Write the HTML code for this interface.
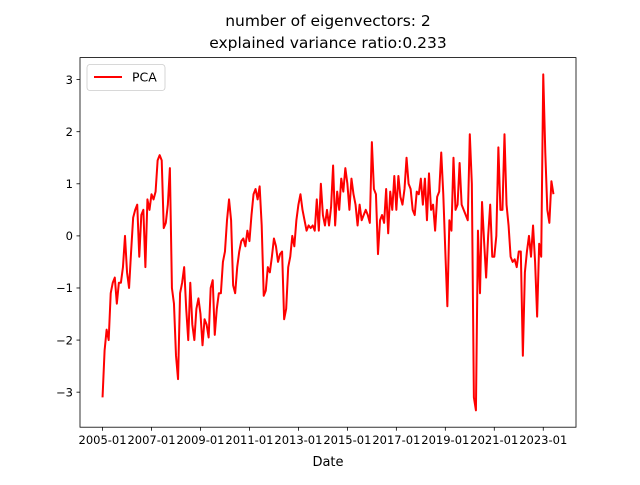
<!DOCTYPE html>
<html><head><meta charset="utf-8"><style>
body{margin:0;background:#fff}
svg{font-family:"DejaVu Sans","Liberation Sans",sans-serif}
</style></head><body>
<svg id="chart" width="640" height="480" xmlns="http://www.w3.org/2000/svg">
<rect width="640" height="480" fill="#fff"/>
<text x="328" y="26" font-size="15.5" text-anchor="middle">number of eigenvectors: 2</text>
<text x="328" y="48" font-size="15.5" text-anchor="middle">explained variance ratio:0.233</text>
<g id="plot"></g>
<text x="328" y="466" font-size="13" text-anchor="middle">Date</text>
</svg>
<script>
const startYear = 2005;
const tickLabels = ["2005-01","2007-01","2009-01","2011-01","2013-01","2015-01","2017-01","2019-01","2021-01","2023-01"];
const yTicks = [-3,-2,-1,0,1,2,3];
const yTickLabels = ["−3","−2","−1","0","1","2","3"];
const pca = [-3.1,-2.2,-1.8,-2.0,-1.1,-0.9,-0.8,-1.3,-0.9,-0.9,-0.6,0.0,-0.7,-1.0,-0.3,0.35,0.5,0.6,-0.4,0.4,0.5,-0.6,0.7,0.5,0.8,0.7,0.85,1.45,1.55,1.45,0.15,0.25,0.6,1.3,-1.0,-1.3,-2.3,-2.75,-1.1,-0.9,-0.6,-1.4,-2.0,-0.9,-1.7,-2.0,-1.4,-1.2,-1.5,-2.1,-1.6,-1.7,-1.95,-1.0,-0.85,-1.9,-1.4,-1.1,-1.1,-0.5,-0.3,0.3,0.7,0.3,-0.95,-1.1,-0.6,-0.3,-0.1,-0.05,-0.2,0.1,-0.1,0.4,0.8,0.9,0.7,0.95,0.2,-1.15,-1.05,-0.6,-0.7,-0.4,-0.05,-0.2,-0.5,-0.35,-0.3,-1.6,-1.4,-0.6,-0.4,0.0,-0.2,0.3,0.6,0.8,0.5,0.3,0.1,0.2,0.15,0.2,0.1,0.7,0.1,1.0,0.4,0.2,0.5,0.2,0.55,1.35,0.2,0.85,0.5,1.1,0.85,1.3,1.0,0.5,1.1,0.8,0.6,0.2,0.6,0.3,0.4,0.5,0.4,0.25,1.8,0.9,0.8,-0.35,0.3,0.4,0.25,0.9,0.05,0.85,0.5,1.15,0.5,1.15,0.75,0.6,0.9,1.5,1.0,0.9,0.5,0.4,0.85,0.8,1.1,0.6,1.1,0.3,1.2,0.5,0.6,0.1,0.75,0.85,1.6,0.8,-0.3,-1.35,0.3,0.1,1.5,0.5,0.6,1.4,0.6,0.5,0.4,0.3,1.95,1.0,-3.1,-3.35,0.1,-1.1,0.65,-0.1,-0.8,0.0,0.6,-0.4,-0.4,0.0,1.7,0.5,0.5,1.95,0.6,0.2,-0.4,-0.5,-0.45,-0.6,-0.3,-0.3,-2.3,-0.7,-0.3,0.0,-0.4,0.2,-0.5,-1.55,-0.15,-0.4,3.1,1.6,0.5,0.25,1.05,0.8];

const L=80,R=576,T=57.6,B=427.2;
const n=pca.length;
const xPad=(n-1)*0.05;
const xmin=-xPad,xmax=(n-1)+xPad;
const dmin=Math.min(...pca),dmax=Math.max(...pca);
const yPad=(dmax-dmin)*0.05;
const ymin=dmin-yPad,ymax=dmax+yPad;
const xs=m=>L+(m-xmin)/(xmax-xmin)*(R-L);
const ys=v=>B-(v-ymin)/(ymax-ymin)*(B-T);
const NS="http://www.w3.org/2000/svg";
const g=document.getElementById('plot');
function el(t,a,p){const e=document.createElementNS(NS,t);for(const k in a)e.setAttribute(k,a[k]);(p||g).appendChild(e);return e;}

const line=el('polyline',{points:pca.map((v,i)=>xs(i).toFixed(2)+','+ys(v).toFixed(2)).join(' '),fill:'none',stroke:'#ff0000','stroke-width':2,'stroke-linejoin':'round'});



const frame=el('rect',{x:L,y:T,width:R-L,height:B-T,fill:'none',stroke:'#000','stroke-width':0.8});



tickLabels.forEach((lab,i)=>{
  const yr=parseInt(lab.slice(0,4));
  const x=xs((yr-startYear)*12);
  const tk=el('line',{x1:x,x2:x,y1:B,y2:B+3.5,stroke:'#000','stroke-width':0.8});
  
  
  const t=el('text',{x:x,y:B+17,'font-size':11.5,'text-anchor':'middle'});
  t.textContent=lab;
  
  
});
yTicks.forEach((v,i)=>{
  const y=ys(v);
  const tk=el('line',{x1:L-3.5,x2:L,y1:y,y2:y,stroke:'#000','stroke-width':0.8});
  
  
  const t=el('text',{x:L-7,y:y+4.2,'font-size':11.5,'text-anchor':'end'});
  t.textContent=yTickLabels[i];
  
  
});

const lg=el('g',{});


el('rect',{x:87,y:64.5,width:78,height:26,rx:3,fill:'#fff',stroke:'#ccc','stroke-width':0.8},lg);
el('line',{x1:94,x2:122,y1:77,y2:77,stroke:'#ff0000','stroke-width':2},lg);
const lt=el('text',{x:132,y:81.5,'font-size':12.5},lg);
lt.textContent='PCA';


</script>
</body></html>
